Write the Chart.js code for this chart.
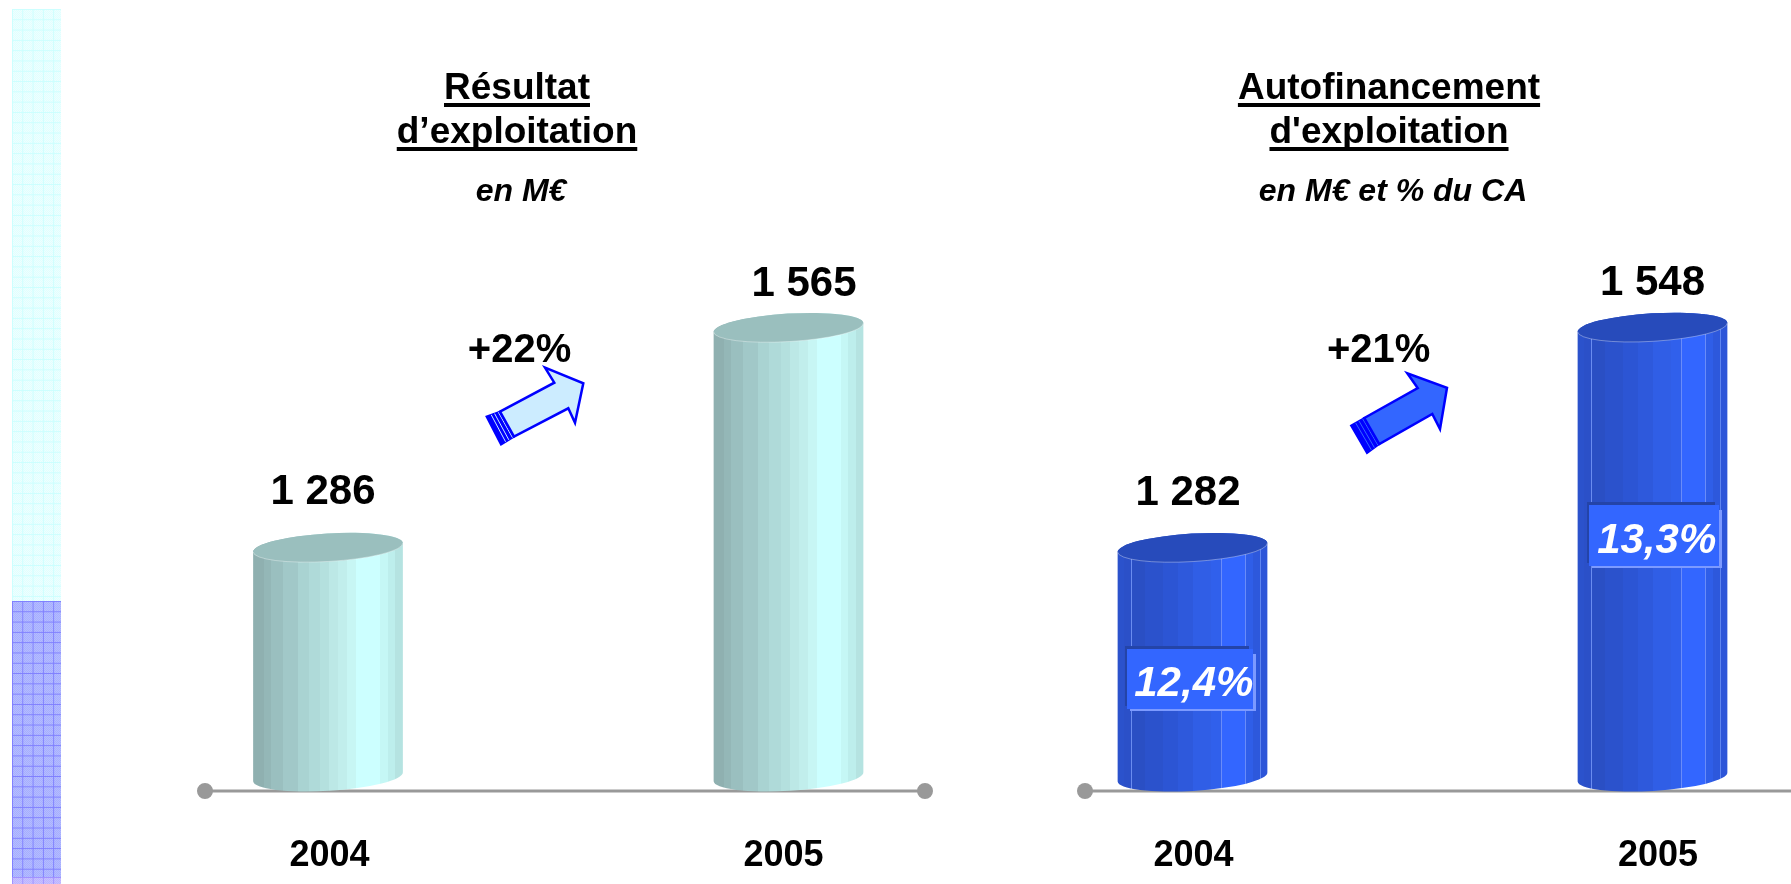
<!DOCTYPE html>
<html>
<head>
<meta charset="utf-8">
<title>Résultat et autofinancement</title>
<script src="https://cdn.jsdelivr.net/npm/chart.js@4"></script>
<style>
  html, body { margin: 0; background: #fff; }
  body { position: relative; width: 1791px; height: 884px; overflow: hidden; font-family: "Liberation Sans", Arial, sans-serif; color: #000; }
  canvas { position: absolute; left: 0; top: 0; }
  .strip { position: absolute; left: 12px; width: 49px; background-size: 10.3px 10.3px, 10.3px 10.3px, 2px 2px; background-position: 0 0; }
  .cyan { top: 9px; height: 592px;
    background-image: linear-gradient(#ccffff 1px, transparent 1px), linear-gradient(90deg, #ccffff 1px, transparent 1px), repeating-conic-gradient(#e0ffff 0 25%, #eeffff 0 50%); }
  .blue { top: 601px; height: 276px;
    background-image: linear-gradient(#7f7fff 1px, transparent 1px), linear-gradient(90deg, #7f7fff 1px, transparent 1px), repeating-conic-gradient(#a6aeff 0 25%, #b4bcff 0 50%); }
  .pink { top: 877px; height: 7px;
    background-image: linear-gradient(#a090ff 1px, transparent 1px), linear-gradient(90deg, #a090ff 1px, transparent 1px), repeating-conic-gradient(#bcb4ff 0 25%, #c8c0ff 0 50%); }
  .t { position: absolute; transform: translateX(-50%); white-space: nowrap; text-align: center; }
  .h { font-size: 37px; line-height: 44px; font-weight: bold; text-decoration: underline; text-decoration-thickness: 3.5px; text-underline-offset: 4px; text-decoration-skip-ink: none; }
  .s { font-size: 32px; line-height: 30px; font-weight: bold; font-style: italic; }
</style>
</head>
<body>
<div class="strip cyan"></div>
<div class="strip blue"></div>
<div class="strip pink"></div>
<canvas id="left" width="1791" height="884"></canvas>
<canvas id="right" width="1791" height="884"></canvas>
<div class="t h" style="left:517px;top:65px">Résultat</div>
<div class="t h" style="left:517px;top:109px">d’exploitation</div>
<div class="t s" style="left:521px;top:175px">en M€</div>
<div class="t h" style="left:1389px;top:65px">Autofinancement</div>
<div class="t h" style="left:1389px;top:109px">d'exploitation</div>
<div class="t s" style="left:1393px;top:175px">en M€ et % du CA</div>
<script>
const years = ['2004', '2005']
const resultat = [1286, 1565]
const autofinancement = [1282, 1548]
const marges = ['12,4%', '13,3%']
const hausseResultat = '+22%'
const hausseAutofin = '+21%'

// colour bands across a cylinder, left to right
const tealBands = [[0, '#8fb0b0'], [.07, '#94b7b7'], [.12, '#9abfbf'], [.2, '#a1c8c8'], [.3, '#a9d3d2'], [.37, '#afdad9'],
  [.45, '#b4e0de'], [.51, '#bce8e6'], [.57, '#c1eeec'], [.63, '#c7f6f4'], [.69, '#ccffff'], [.85, '#c5f7f5'], [.9, '#bdeeec'], [.95, '#b5e3e1']]
const blueBands = [[0, '#2b52cc'], [.04, '#5f85f0'], [.046, '#2b50c8'], [.09, '#6a8cf0'], [.096, '#2a4fc4'], [.18, '#6a8cf0'], [.186, '#2b52cc'],
  [.3, '#2c55d4'], [.4, '#2e59dc'], [.5, '#305ee6'], [.62, '#5f85f0'], [.626, '#3060ec'], [.69, '#6a8cf8'], [.696, '#3366ff'],
  [.8, '#6a8cf8'], [.806, '#3366ff'], [.85, '#6a8cf8'], [.856, '#2f5ee8'], [.9, '#6a8cf0'], [.906, '#2d58dc'], [.95, '#5f85f0'], [.956, '#2c55d8']]
const bandsByTop = { '#9abfbe': tealBands, '#274bbb': blueBands }

const TILT = -0.06
const RY = 14

// bars are drawn as tilted cylinders, the bar colour is the colour of the top
Chart.BarElement.prototype.draw = function (ctx) {
  const { x, y, base, width } = this.getProps(['x', 'y', 'base', 'width'], true)
  const top = this.options.backgroundColor
  const bands = bandsByTop[top]
  const rx = width / 2
  const g = ctx.createLinearGradient(x - rx, 0, x + rx, 0)
  bands.forEach((b, i) => {
    g.addColorStop(b[0], b[1])
    const next = bands[i + 1]
    g.addColorStop(next ? next[0] : 1, b[1])
  })
  ctx.save()
  ctx.beginPath()
  ctx.ellipse(x, base, rx, RY, TILT, 0, Math.PI)
  ctx.ellipse(x, y, rx, RY, TILT, Math.PI, Math.PI * 2)
  ctx.closePath()
  ctx.fillStyle = g
  ctx.fill()
  ctx.beginPath()
  ctx.ellipse(x, y, rx, RY, TILT, 0, Math.PI * 2)
  ctx.fillStyle = top
  ctx.fill()
  ctx.beginPath()
  ctx.ellipse(x, y, rx, RY, TILT, 0, Math.PI)
  ctx.strokeStyle = 'rgba(255,255,255,.35)'
  ctx.lineWidth = 1
  ctx.stroke()
  ctx.restore()
}

function text(ctx, str, x, y, font, color) {
  ctx.font = font
  ctx.fillStyle = color || '#000'
  ctx.textAlign = 'center'
  ctx.textBaseline = 'alphabetic'
  ctx.fillText(str, x, y)
}

function drawArrow(ctx, p, fill) {
  ctx.save()
  ctx.lineJoin = 'miter'
  // tail
  ctx.beginPath()
  ctx.moveTo(...p.tail[0])
  ctx.lineTo(...p.tail[1])
  ctx.lineTo(...p.shaft[1])
  ctx.lineTo(...p.shaft[0])
  ctx.closePath()
  ctx.fillStyle = '#0000ff'
  ctx.strokeStyle = '#0000ff'
  ctx.lineWidth = 2
  ctx.fill()
  ctx.stroke()
  ctx.strokeStyle = fill
  ctx.lineWidth = 1
  ;[.35, .6, .88].forEach(f => {
    ctx.beginPath()
    ctx.moveTo(p.tail[0][0] + (p.shaft[0][0] - p.tail[0][0]) * f, p.tail[0][1] + (p.shaft[0][1] - p.tail[0][1]) * f)
    ctx.lineTo(p.tail[1][0] + (p.shaft[1][0] - p.tail[1][0]) * f, p.tail[1][1] + (p.shaft[1][1] - p.tail[1][1]) * f)
    ctx.stroke()
  })
  // body and head
  ctx.beginPath()
  ctx.moveTo(...p.shaft[0])
  p.head.forEach(q => ctx.lineTo(...q))
  ctx.lineTo(...p.shaft[1])
  ctx.closePath()
  ctx.fillStyle = fill
  ctx.strokeStyle = '#0000ff'
  ctx.lineWidth = 2.5
  ctx.fill()
  ctx.stroke()
  ctx.restore()
}

function fmt(v) {
  return String(v).replace(/\B(?=(\d{3})+$)/, ' ')
}

function makeChart(id, values, s) {
  const plugin = {
    id: 'decor',
    beforeDatasetsDraw(chart) {
      const ctx = chart.ctx
      const x = chart.scales.x
      const by = chart.chartArea.bottom
      const x0 = x.getPixelForValue(0) + s.axisFrom
      const x1 = s.axisTo === null ? chart.width : x.getPixelForValue(1) + s.axisTo
      ctx.save()
      ctx.strokeStyle = '#999'
      ctx.fillStyle = '#999'
      ctx.lineWidth = 3
      ctx.beginPath()
      ctx.moveTo(x0, by)
      ctx.lineTo(x1, by)
      ctx.stroke()
      ctx.beginPath()
      ctx.arc(x0, by, 8, 0, Math.PI * 2)
      if (s.axisTo !== null) { ctx.moveTo(x1 + 8, by); ctx.arc(x1, by, 8, 0, Math.PI * 2) }
      ctx.fill()
      ctx.restore()
    },
    afterDatasetsDraw(chart) {
      const ctx = chart.ctx
      const x = chart.scales.x
      const y = chart.scales.y
      const mid = (x.getPixelForValue(0) + x.getPixelForValue(1)) / 2
      ctx.save()
      values.forEach((v, i) => {
        const cx = x.getPixelForValue(i)
        text(ctx, fmt(v), cx + s.valueDx[i], y.getPixelForValue(v) + s.valueDy[i], 'bold 42px "Liberation Sans"')
        text(ctx, years[i], cx + s.yearDx[i], 866, 'bold 36px "Liberation Sans"')
      })
      text(ctx, s.hausse, mid + s.hausseDx, s.hausseY, 'bold 40px "Liberation Sans"')
      drawArrow(ctx, s.arrow, s.arrowFill)
      if (s.marges) {
        s.marges.forEach((m, i) => {
          const b = s.boxes[i]
          ctx.fillStyle = '#2444a8'
          ctx.fillRect(b.x - 2, b.y - 3, b.w - 2, 10)
          ctx.fillRect(b.x - 2, b.y - 3, 6, b.h)
          ctx.fillStyle = '#7c9aff'
          ctx.fillRect(b.x + 3, b.y + 5, b.w + 0, b.h - 3)
          ctx.fillStyle = '#3366ff'
          ctx.fillRect(b.x, b.y, b.w, b.h)
          text(ctx, m, b.tx, b.ty, 'italic bold 42px "Liberation Sans"', '#fff')
        })
      }
      ctx.restore()
    }
  }
  return new Chart(document.getElementById(id), {
    type: 'bar',
    data: {
      labels: years,
      datasets: [{
        data: values,
        base: s.base,
        barThickness: 150,
        clip: false,
        backgroundColor: s.topColor
      }]
    },
    options: {
      responsive: false,
      animation: false,
      events: [],
      layout: { padding: { left: s.left, right: 1791 - s.right, top: 300, bottom: 93 } },
      plugins: { legend: { display: false }, tooltip: { enabled: false } },
      scales: {
        x: { display: false, offset: false },
        y: { display: false, min: s.min, max: s.max }
      }
    },
    plugins: [plugin]
  })
}

makeChart('left', resultat, {
  left: 328, right: 788.5, min: 977, max: 1600, base: 995,
  topColor: '#9abfbe',
  axisFrom: -123, axisTo: 136.5,
  valueDx: [-5, 15.5], valueDy: [-43, -32], yearDx: [1.5, -5],
  hausse: hausseResultat, hausseDx: -38.75, hausseY: 361.5,
  arrowFill: '#ccecff',
  arrow: {
    tail: [[486.5, 416.5], [501, 444.5]],
    shaft: [[500, 411.7], [514, 436.7]],
    head: [[554.3, 382.7], [545, 367.7], [583.3, 383.3], [575, 422.7], [568.3, 408.3]]
  }
})

makeChart('right', autofinancement, {
  left: 1192.5, right: 1652.5, min: 988, max: 1581, base: 1005,
  topColor: '#274bbb',
  axisFrom: -107.5, axisTo: null,
  valueDx: [-4.5, 0], valueDy: [-43, -32], yearDx: [1, 5.5],
  hausse: hausseAutofin, hausseDx: -43.8, hausseY: 361.5,
  arrowFill: '#3366ff',
  arrow: {
    tail: [[1351, 425.5], [1367, 453]],
    shaft: [[1364.3, 418], [1379.3, 444]],
    head: [[1417.7, 388], [1407.3, 373.3], [1447, 387.7], [1440, 429], [1432.3, 414]]
  },
  marges: marges,
  boxes: [{ x: 1127, y: 649, w: 126, h: 60, tx: 1193.8, ty: 696 }, { x: 1589, y: 505, w: 130, h: 61, tx: 1656.7, ty: 553 }]
})
</script>
</body>
</html>
